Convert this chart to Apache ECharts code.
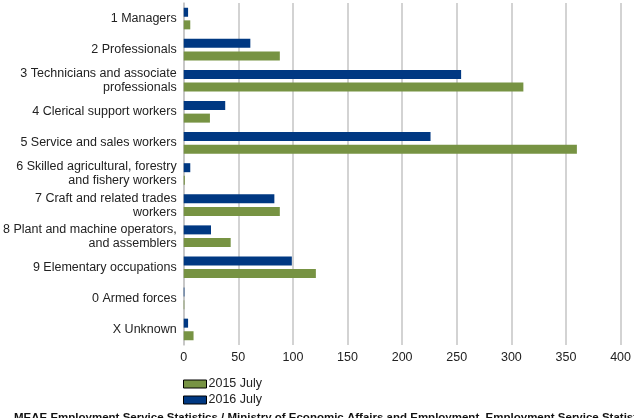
<!DOCTYPE html>
<html>
<head>
<meta charset="utf-8">
<script src="https://cdn.jsdelivr.net/npm/echarts@6/dist/echarts.min.js"></script>
<style>
  html, body { margin: 0; padding: 0; background: #fff; }
  #chart { width: 634px; height: 418px; }
</style>
</head>
<body>
<div id="chart"></div>
<script>
var categories = [
  '1 Managers',
  '2 Professionals',
  '3 Technicians and associate\nprofessionals',
  '4 Clerical support workers',
  '5 Service and sales workers',
  '6 Skilled agricultural, forestry\nand fishery workers',
  '7 Craft and related trades\nworkers',
  '8 Plant and machine operators,\nand assemblers',
  '9 Elementary occupations',
  '0 Armed forces',
  'X Unknown'
];
var july2015 = [6, 88, 311, 24, 360, 1, 88, 43, 121, 0.5, 9];
var july2016 = [4, 61, 254, 38, 226, 6, 83, 25, 99, 0.6, 4];
var xTicks = { min: 0, max: 400, interval: 50 };
var footer = 'MEAE Employment Service Statistics / Ministry of Economic Affairs and Employment, Employment Service Statistics';

var chart = echarts.init(document.getElementById('chart'));
var font = '"Liberation Sans", Arial, sans-serif';

chart.setOption({
  animation: false,
  textStyle: { fontFamily: font },
  grid: { left: 183, right: 13, top: 3, bottom: 73 },
  legend: {
    orient: 'vertical',
    left: 183,
    top: 377,
    padding: 0,
    icon: 'rect',
    itemWidth: 23,
    itemHeight: 8,
    itemGap: 2,
    data: ['2015 July', '2016 July'],
    itemStyle: { borderColor: '#000', borderWidth: 1 },
    textStyle: { fontSize: 12.5, lineHeight: 14, color: '#222', fontFamily: font, padding: [0, 0, 0, -3] }
  },
  xAxis: {
    type: 'value',
    min: xTicks.min,
    max: xTicks.max,
    interval: xTicks.interval,
    axisLine: { show: false },
    axisTick: { show: false },
    axisLabel: { color: '#222', fontSize: 12.5, margin: 6 },
    splitLine: { show: true, lineStyle: { color: '#c4c4c4', width: 1.5 } }
  },
  yAxis: {
    type: 'category',
    inverse: true,
    data: categories,
    axisLine: { show: true, lineStyle: { color: '#c4c4c4', width: 1.5 } },
    axisTick: { show: false },
    axisLabel: {
      color: '#222', fontSize: 12.5, margin: 7, lineHeight: 14, align: 'right',
      padding: [0, 0, 4, 0]
    }
  },
  series: [
    {
      name: '2016 July',
      type: 'bar',
      barWidth: 9,
      barGap: '40%',
      itemStyle: { color: '#003882' },
      data: july2016
    },
    {
      name: '2015 July',
      type: 'bar',
      barWidth: 9,
      barGap: '40%',
      itemStyle: { color: '#779343' },
      data: july2015
    }
  ],
  graphic: [{
    type: 'text',
    left: 14,
    top: 412,
    style: { text: footer, font: 'bold 11.5px ' + font, fill: '#111' }
  }]
});
</script>
</body>
</html>
